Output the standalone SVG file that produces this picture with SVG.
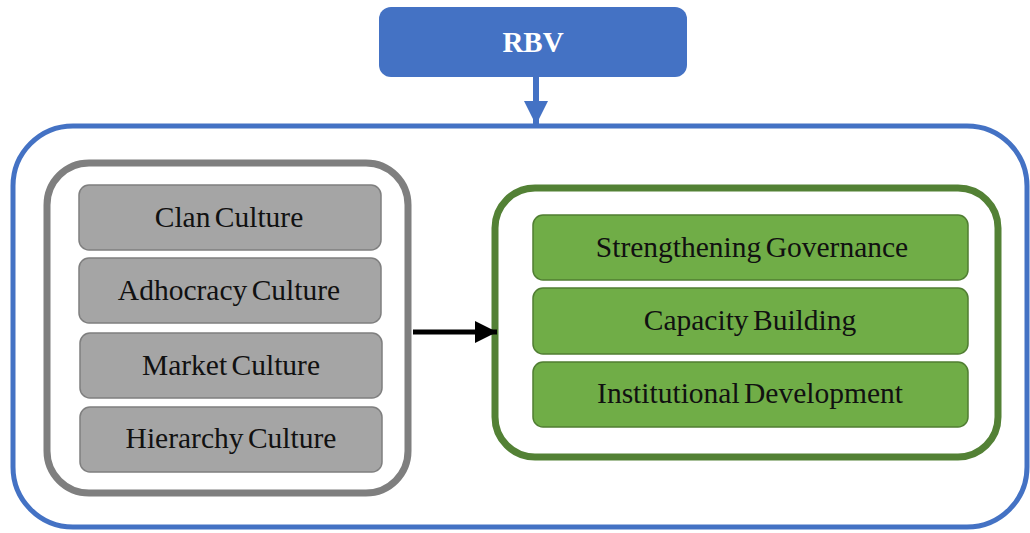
<svg xmlns="http://www.w3.org/2000/svg" width="1030" height="533" viewBox="0 0 1030 533">
<defs>
<style>
.t{font-family:"Liberation Serif","Times New Roman",serif;font-size:29.5px;fill:#111;text-anchor:middle;word-spacing:-3px}
.g{fill:#a5a5a5;stroke:#7f7f7f;stroke-width:1.5}
.gr{fill:#70ad47;stroke:#507e32;stroke-width:1.5}
</style>
<marker id="ab" viewBox="0 0 10 10" refX="10" refY="5" markerWidth="4" markerHeight="4" orient="auto" markerUnits="strokeWidth"><path d="M0,0 L10,5 L0,10 z" fill="#4472c4"/></marker>
<marker id="ak" viewBox="0 0 10 10" refX="10" refY="5" markerWidth="4.5" markerHeight="4.5" orient="auto" markerUnits="strokeWidth"><path d="M0,0 L10,5 L0,10 z" fill="#000"/></marker>
</defs>
<rect width="1030" height="533" fill="#fff"/>
<g id="outer">
<rect x="13" y="126" width="1014" height="401" rx="60" fill="none" stroke="#4472c4" stroke-width="5"/>
</g>
<g id="rbv">
<rect x="379" y="7" width="308" height="70" rx="12" fill="#4472c4"/>
<text x="533" y="52" font-family="Liberation Serif, serif" font-size="29" font-weight="bold" fill="#fff" text-anchor="middle">RBV</text>
</g>
<g id="culture">
<rect x="47" y="163" width="361" height="330" rx="42" fill="none" stroke="#7f7f7f" stroke-width="7"/>
</g>
<g id="clan"><rect class="g" x="79" y="185" width="302" height="65" rx="10"/><text class="t" x="229" y="227">Clan Culture</text></g>
<g id="adhocracy"><rect class="g" x="79" y="258" width="302" height="65" rx="10"/><text class="t" x="229" y="300">Adhocracy Culture</text></g>
<g id="market"><rect class="g" x="80" y="333" width="302" height="65" rx="10"/><text class="t" x="231" y="375">Market Culture</text></g>
<g id="hierarchy"><rect class="g" x="80" y="407" width="302" height="65" rx="10"/><text class="t" x="231" y="448">Hierarchy Culture</text></g>
<g id="outcomes">
<rect x="495" y="188" width="503" height="269" rx="40" fill="none" stroke="#538135" stroke-width="7"/>
</g>
<g id="governance"><rect class="gr" x="533" y="215" width="435" height="65" rx="10"/><text class="t" x="752" y="257">Strengthening Governance</text></g>
<g id="capacity"><rect class="gr" x="533" y="288" width="435" height="66" rx="10"/><text class="t" x="750" y="330">Capacity Building</text></g>
<g id="institutional"><rect class="gr" x="533" y="362" width="435" height="65" rx="10"/><text class="t" x="750" y="403">Institutional Development</text></g>
<g id="connectors">
<line x1="536" y1="77" x2="536" y2="125" stroke="#4472c4" stroke-width="6" marker-end="url(#ab)"/>
<line x1="413" y1="332" x2="497" y2="332" stroke="#000" stroke-width="5" marker-end="url(#ak)"/>
</g>
</svg>
